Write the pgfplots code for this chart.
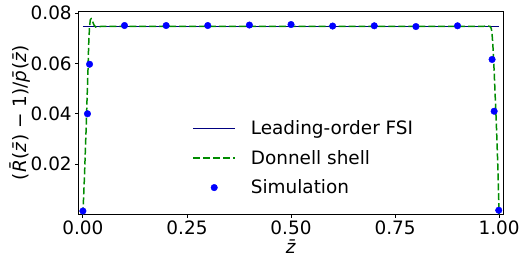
\documentclass[border=0pt]{standalone}
\usepackage{fontspec}
\setmainfont{DejaVu Sans}
\usepackage{pgfplots}
\pgfplotsset{compat=1.18}
\definecolor{donnell}{rgb}{0.0,0.55,0.0}
\definecolor{simblue}{rgb}{0.0,0.0,1.0}
\definecolor{fsinavy}{rgb}{0.0,0.0,0.5}
\pgfplotsset{dotlegend/.style={legend image code/.code={\draw[##1] plot coordinates {(21pt,0pt)};}}}
\begin{document}
\begin{tikzpicture}
\begin{axis}[
  scale only axis,
  width=426pt, height=204pt,
  xmin=-0.01, xmax=1.01,
  ymin=0, ymax=0.0809,
  clip=false,
  axis line style={black, line width=0.8pt},
  tick style={black, line width=0.8pt},
  tick align=outside,
  major tick length=3.5pt,
  xtick={0,0.25,0.5,0.75,1},
  ytick={0.02,0.04,0.06,0.08},
  xtick pos=bottom, ytick pos=left,
  scaled y ticks=false, scaled x ticks=false,
  /pgf/number format/.cd, fixed, fixed zerofill, precision=2, assume math mode=true,
  /pgfplots/.cd,
  ticklabel style={font=\fontsize{18.5}{21}\selectfont},
  label style={font=\fontsize{18.5}{21}\selectfont},
  xlabel={\textit{\=z}},
  ylabel={(\textit{\=R}(\textit{\=z}) − 1)/\textit{\=p}(\textit{\=z})},
  xlabel style={at={(axis description cs:0.5,0)}, anchor=center, yshift=-32pt},
  ylabel style={at={(axis description cs:-0.138,0.5)}, anchor=center},
  legend style={draw=none, fill=none, at={(axis description cs:0.2676,0.47)}, anchor=north west,
    font=\fontsize{18.5}{21}\selectfont, row sep=10pt, inner sep=0pt,
    nodes={inner sep=2pt}, column sep=13pt},
  legend cell align=left,
  legend image code/.code={\draw[#1] (0pt,0pt) -- (42pt,0pt);},
]
\addplot[fsinavy, line width=1pt] coordinates {(0,0.0748) (1,0.0748)};
\addlegendentry{Leading-order FSI}
\addplot[donnell, line width=1.5pt, dash pattern=on 7pt off 3pt, smooth, tension=0.3] coordinates {
(0,0) (0.002,0.008) (0.004,0.016) (0.006,0.026) (0.008,0.035) (0.010,0.046)
(0.012,0.056) (0.014,0.068) (0.016,0.0745) (0.018,0.0775) (0.020,0.0778)
(0.023,0.0768) (0.027,0.0752) (0.031,0.0745) (0.036,0.0745) (0.045,0.0748)
(0.06,0.0748) (0.2,0.0748) (0.4,0.0748) (0.6,0.0748) (0.8,0.0748) (0.95,0.0748)
(0.978,0.0748) (0.981,0.0740) (0.983,0.0715) (0.985,0.0670) (0.987,0.0605)
(0.989,0.0530) (0.991,0.0450) (0.993,0.0370) (0.995,0.0280) (0.997,0.0180)
(0.999,0.006) (1.0,0.0)};
\addlegendentry{Donnell shell}
\addplot[only marks, mark=*, mark size=3.3pt, simblue, mark options={draw=simblue, fill=simblue}, dotlegend] coordinates {
(0,0.0013) (0.011,0.040) (0.016,0.0597) (0.1,0.0751) (0.2,0.0751) (0.3,0.0751)
(0.4,0.0753) (0.5,0.0755) (0.6,0.0749) (0.7,0.0750) (0.8,0.0747) (0.9,0.0750)
(0.983,0.0616) (0.988,0.041) (0.999,0.0016)};
\addlegendentry{Simulation}
\end{axis}
\path[use as bounding box] (-79pt,-45pt) rectangle (444pt,215pt);
\end{tikzpicture}
\end{document}
